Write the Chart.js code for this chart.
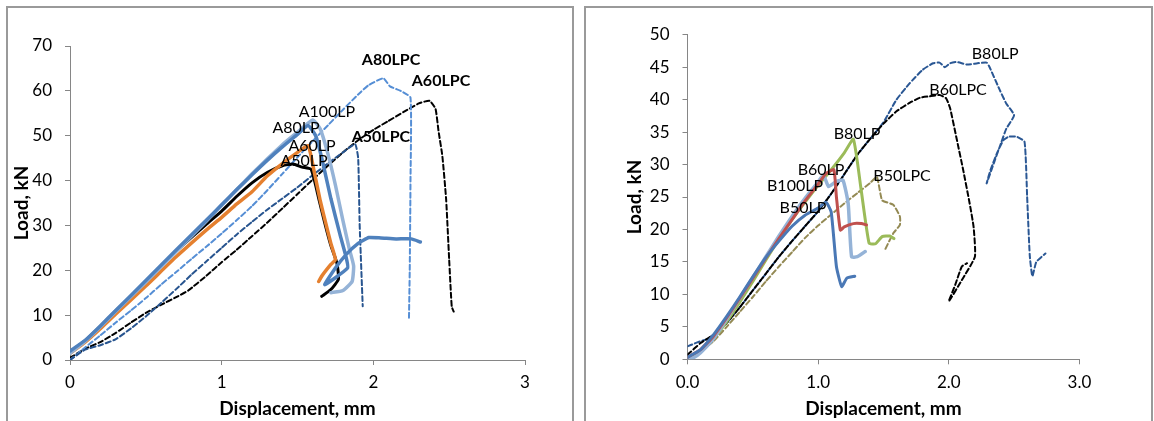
<!DOCTYPE html>
<html>
<head>
<meta charset="utf-8">
<script src="https://cdn.jsdelivr.net/npm/chart.js@4.4.1/dist/chart.umd.min.js"></script>
<style>
html,body{margin:0;padding:0;background:#fff;}
body{width:1154px;height:421px;position:relative;overflow:hidden;}
.panel{position:absolute;top:6px;height:480px;border:2px solid #9a9a9a;box-sizing:border-box;}
canvas{position:absolute;top:0;}
</style>
</head>
<body>
<div class="panel" style="left:6px;width:568px;"></div>
<div class="panel" style="left:584px;width:569px;"></div>
<canvas id="c1" width="578" height="421" style="left:0;width:578px;height:421px;"></canvas>
<canvas id="c2" width="576" height="421" style="left:578px;width:576px;height:421px;"></canvas>
<script>
// ---------- Left chart data (Displacement mm, Load kN) ----------
const A100LP = [[0,1.5],[0.1,4.2],[0.2,7.4],[0.3,10.8],[0.5,17.4],[0.7,24.2],[0.9,31],[1.0,34.5],[1.1,38],[1.2,41.5],[1.3,44.8],[1.4,48],[1.5,50.8],[1.6,53.5],[1.65,51.5],[1.7,46],[1.75,39],[1.8,31],[1.84,25],[1.87,21],[1.86,17.5],[1.8,15.5],[1.72,15]];
const A80LP = [[0,2],[0.1,4.4],[0.2,7.6],[0.3,11],[0.5,17.7],[0.7,24.5],[0.9,31.2],[1.0,34.6],[1.1,38],[1.2,41.3],[1.3,44.5],[1.4,47.5],[1.5,50.3],[1.57,52.3],[1.62,50],[1.66,45],[1.72,36],[1.78,28],[1.82,23],[1.83,20.5],[1.68,16.8],[1.75,20.5],[1.82,23.5],[1.9,26],[1.97,27.3],[2.05,27.2],[2.15,27],[2.25,27],[2.31,26.3]];
const A60LP = [[0,1.5],[0.1,4],[0.2,7],[0.3,10.2],[0.5,16.5],[0.7,23],[0.9,29],[1.0,31.8],[1.1,34.8],[1.2,37.5],[1.3,41],[1.4,43.8],[1.5,46.3],[1.57,47.8],[1.61,42],[1.65,35.5],[1.69,30],[1.72,26],[1.75,22.4],[1.72,21.3],[1.66,18.7],[1.64,17.5]];
const A50LP = [[0,1.8],[0.1,4.3],[0.2,7.5],[0.3,10.9],[0.5,17.5],[0.7,24.3],[0.9,30.3],[1.0,33.2],[1.1,36.5],[1.2,39.5],[1.3,41.8],[1.4,43.3],[1.47,43.7],[1.53,43],[1.59,42.5],[1.64,36],[1.68,30.5],[1.72,25.5],[1.76,21.6],[1.77,18],[1.72,15.7],[1.66,14.2]];
const A80LPC = [[0,0],[0.1,2.8],[0.2,5.5],[0.3,8.3],[0.4,11],[0.5,13.8],[0.6,16.8],[0.7,19.6],[0.8,22.5],[0.9,25.3],[1.0,28.2],[1.1,31.2],[1.2,34.3],[1.3,37.8],[1.4,41.5],[1.5,45.2],[1.6,48.8],[1.7,52.3],[1.8,55.8],[1.9,59.2],[1.97,61.3],[2.066,62.8],[2.11,61],[2.18,60],[2.245,58.5],[2.245,40],[2.24,20],[2.235,9.3]];
const A60LPC = [[0,0.5],[0.1,2.5],[0.2,4],[0.3,6],[0.4,8.3],[0.5,10.5],[0.6,12.3],[0.7,14],[0.78,15.5],[0.9,18.8],[1.0,21.8],[1.1,24.6],[1.2,27.6],[1.3,30.6],[1.4,33.8],[1.5,37],[1.6,40.2],[1.7,43.3],[1.8,46.3],[1.9,49],[2.0,51.3],[2.1,53.3],[2.2,55.3],[2.3,57.2],[2.37,57.8],[2.41,56],[2.43,51],[2.455,45.5],[2.48,35.8],[2.5,22.4],[2.517,11.9],[2.53,10.8]];
const A50LPC = [[0,0],[0.1,2.3],[0.2,3.3],[0.3,4.6],[0.4,7],[0.5,9.7],[0.6,12.7],[0.7,15.8],[0.8,19],[0.9,22],[1.0,25],[1.1,28],[1.2,30.8],[1.3,33.5],[1.4,36],[1.5,38.5],[1.6,41.2],[1.7,43.8],[1.8,46.3],[1.88,48.1],[1.9,45],[1.91,30],[1.93,12]];
const leftTicksX = ['0','1','2','3'];
const leftLabels = [
  ['A100LP',1.694,55.3,false],['A80LP',1.49,51.7,false],['A60LP',1.596,47.7,false],['A50LP',1.543,44.4,false],
  ['A80LPC',2.117,66.9,true],['A60LPC',2.446,62.2,true],['A50LPC',2.05,49.7,true]
];

// ---------- Right chart data ----------
const B50LP = [[0,0.3],[0.1,1.5],[0.2,3.8],[0.3,6.6],[0.4,9.6],[0.5,12.7],[0.6,15.7],[0.7,18.2],[0.8,20.5],[0.9,22.2],[1.0,23.3],[1.06,24.2],[1.1,22.7],[1.14,14.3],[1.18,11.2],[1.22,12.5],[1.28,12.8]];
const B60LP = [[0,0.3],[0.1,1.5],[0.2,3.6],[0.3,6.4],[0.4,9.4],[0.5,12.5],[0.6,15.6],[0.7,18.6],[0.8,21.5],[0.9,24.4],[1.0,27],[1.06,28.6],[1.12,29.2],[1.14,25],[1.17,19.9],[1.2,20.4],[1.27,20.9],[1.33,20.9],[1.37,20.7]];
const B100LP = [[0,0],[0.05,0.3],[0.1,1.0],[0.2,3.2],[0.3,6.2],[0.4,9.4],[0.5,12.6],[0.6,15.8],[0.7,19],[0.8,22],[0.9,24.8],[1.0,27.3],[1.04,28.4],[1.08,26.6],[1.14,27.4],[1.19,27.6],[1.23,24],[1.256,15.8],[1.3,15.8],[1.36,16.6]];
const B80LP = [[0,0.3],[0.1,1.2],[0.2,3.2],[0.3,5.8],[0.4,8.8],[0.5,12],[0.6,15.3],[0.7,18.5],[0.8,21.5],[0.9,24.2],[1.0,26.8],[1.1,29.2],[1.2,31.8],[1.27,33.9],[1.33,26],[1.39,17.9],[1.44,17.8],[1.49,18.9],[1.55,19.0],[1.58,18.6]];
const B50LPC = [[0,0.3],[0.1,1.2],[0.2,2.8],[0.3,5],[0.4,7.3],[0.5,9.6],[0.6,12],[0.7,14.3],[0.8,16.5],[0.9,18.7],[1.0,20.6],[1.1,22.3],[1.2,24],[1.3,25.6],[1.4,27.2],[1.45,28.1],[1.49,24.5],[1.575,23.8],[1.626,22],[1.626,20.7],[1.575,19.4],[1.51,16.8]];
const B60LPC = [[0,0.7],[0.1,2.5],[0.2,3.8],[0.3,5.6],[0.4,8],[0.5,10.6],[0.6,13.2],[0.7,15.8],[0.8,18.2],[0.9,20.5],[1.0,22.8],[1.1,25.5],[1.2,28.5],[1.3,31.5],[1.4,34],[1.5,36.3],[1.6,38.2],[1.7,39.5],[1.78,40.3],[1.85,40.5],[1.93,40.7],[1.98,40.2],[2.01,38.7],[2.06,34],[2.11,29.2],[2.16,24],[2.19,20.4],[2.2,15.8],[2.1,12.2],[2.0,8.9],[2.05,11.5],[2.1,14.3],[2.14,14.8]];
const B80LPd = [[0,2],[0.05,2.4],[0.1,2.8],[0.15,3.1],[0.2,3.8],[0.3,5.6],[0.4,8],[0.5,10.6],[0.6,13.2],[0.7,15.8],[0.8,18.2],[0.9,20.5],[1.0,22.8],[1.1,25.5],[1.2,28.5],[1.3,31.5],[1.4,34],[1.5,36.5],[1.6,40],[1.7,42.5],[1.8,44.6],[1.88,45.6],[1.93,45.7],[1.97,45.0],[2.01,45.6],[2.06,45.8],[2.14,45.4],[2.22,45.6],[2.29,45.7],[2.31,45.1],[2.39,41.5],[2.44,39.4],[2.5,37.6],[2.44,35.5],[2.4,33.3],[2.35,30.5],[2.29,27.1],[2.32,29.2],[2.37,31.8],[2.42,33.8],[2.46,34.3],[2.52,34.3],[2.58,33.5],[2.6,25],[2.62,16],[2.64,12.8],[2.67,15],[2.74,16.3]];
const rightTicksX = ['0.0','1.0','2.0','3.0'];
const rightLabels = [
  ['B80LP',2.355,47.0],['B60LPC',2.071,41.5],['B80LP',1.298,34.7],['B60LP',1.022,29.2],
  ['B50LPC',1.642,28.2],['B100LP',0.823,26.7],['B50LP',0.884,23.3]
];

const FONT = 'Lato, "Open Sans", sans-serif';
const AXIS = '#868686';

function ds(data, color, width, dash) {
  return {data: data.map(p => ({x:p[0], y:p[1]})), borderColor: color, borderWidth: width,
    borderDash: dash || [], showLine: true, pointRadius: 0, fill: false, tension: 0.15,
    borderCapStyle: 'round', borderJoinStyle: 'round'};
}

function labelPlugin(list) {
  return {
    id: 'lbl',
    afterDatasetsDraw(chart) {
      const ctx = chart.ctx, xs = chart.scales.x, ys = chart.scales.y;
      ctx.save();
      ctx.textAlign = 'center';
      ctx.textBaseline = 'middle';
      ctx.fillStyle = '#000';
      list.forEach(l => {
        ctx.font = (l[3] ? 'bold ' : '') + '16px ' + FONT;
        ctx.fillText(l[0], xs.getPixelForValue(l[1]), ys.getPixelForValue(l[2]));
      });
      ctx.restore();
    }
  };
}

function makeChart(id, datasets, cfg) {
  return new Chart(document.getElementById(id), {
    type: 'scatter',
    data: {datasets},
    options: {
      responsive: false, animation: false, devicePixelRatio: 1,
      layout: {padding: {left: 0, right: cfg.padRight, top: cfg.padTop, bottom: 0}},
      plugins: {legend: {display: false}, tooltip: {enabled: false}},
      scales: {
        x: {
          type: 'linear', min: 0, max: 3,
          afterFit: s => { s.height = cfg.xH; },
          afterBuildTicks: s => { s.ticks = [0,1,2,3].map(v => ({value: v})); },
          ticks: {padding: 7.8, color: '#000', font: {family: FONT, size: 17},
                  callback: (v) => cfg.xLabels[Math.round(v)]},
          grid: {drawOnChartArea: false, drawTicks: true, tickLength: 5, color: AXIS},
          border: {display: true, color: AXIS, width: 1},
          title: {display: true, text: 'Displacement, mm', color: '#000',
                  font: {family: FONT, size: 19, weight: 'bold'}, padding: {top: 0, bottom: 0.6}}
        },
        y: {
          type: 'linear', min: 0, max: cfg.yMax,
          afterFit: s => { s.width = cfg.yW; },
          ticks: {stepSize: cfg.yStep, padding: 13, color: '#000', font: {family: FONT, size: 17}},
          grid: {drawOnChartArea: false, drawTicks: true, tickLength: 5, color: AXIS},
          border: {display: true, color: AXIS, width: 1},
          title: {display: true, text: 'Load, kN', color: '#000',
                  font: {family: FONT, size: 19, weight: 'bold'}, padding: {top: cfg.yTitlePad, bottom: 0}}
        }
      }
    },
    plugins: [labelPlugin(cfg.labels)]
  });
}

makeChart('c1', [
  ds(A80LP, '#4F81BD', 3.5),
  ds(A100LP, '#95B3D7', 3.5),
  ds(A60LP, '#E5802F', 3.5),
  ds(A50LP, '#000000', 3),
  ds(A50LPC, '#27548F', 2, [5,3]),
  ds(A80LPC, '#558ED5', 2, [5,3]),
  ds(A60LPC, '#000000', 2, [5,3])
], {padRight: 53, padTop: 46, xH: 61, yW: 70, yMax: 70, yStep: 10, yTitlePad: 10.6, xLabels: leftTicksX, labels: leftLabels});

makeChart('c2', [
  ds(B50LP, '#4A78B5', 3),
  ds(B60LP, '#C0504D', 3),
  ds(B100LP, '#95B3D7', 3.5),
  ds(B80LP, '#9BBB59', 3),
  ds(B50LPC, '#948A54', 2, [5,3]),
  ds(B60LPC, '#000000', 2, [5,3]),
  ds(B80LPd, '#2A5794', 2, [5,3])
], {padRight: 74.6, padTop: 34.7, xH: 61.7, yW: 109.5, yMax: 50, yStep: 5, yTitlePad: 45.6, xLabels: rightTicksX, labels: rightLabels});
</script>
</body>
</html>
